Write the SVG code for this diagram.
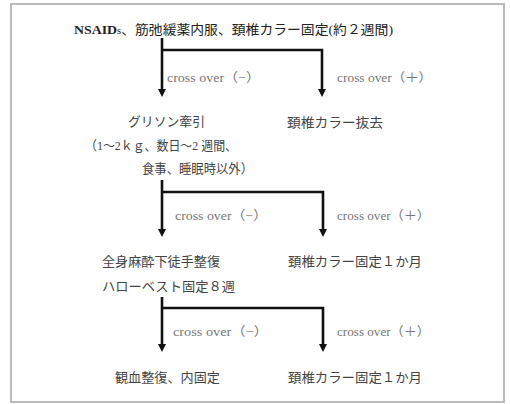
<svg xmlns="http://www.w3.org/2000/svg" width="510" height="404" viewBox="0 0 510 404">
<defs>
<style>
.t{font-family:"Liberation Serif","Noto Sans CJK JP",serif;font-size:13px;fill:#444}
.top{fill:#222}
.co{font-family:"Liberation Serif","Noto Sans CJK JP",serif;font-size:12.5px;fill:#777}
.c{fill:none;stroke:#111;stroke-width:2.6;stroke-linejoin:miter}
.h{fill:#111}
</style>
</defs>
<rect x="11" y="4" width="493" height="398" fill="#fff" stroke="#bbb" stroke-width="2"/>
<g id="connectors">
<path class="c" d="M162,38 V89"/>
<path class="c" d="M162,50 H322 V89"/>
<path class="h" d="M158,89 L166,89 L162,97 Z"/>
<path class="h" d="M318,89 L326,89 L322,97 Z"/>
<path class="c" d="M162,180 V229"/>
<path class="c" d="M162,192 H323 V229"/>
<path class="h" d="M158,229 L166,229 L162,237 Z"/>
<path class="h" d="M319,229 L327,229 L323,237 Z"/>
<path class="c" d="M162,297 V344"/>
<path class="c" d="M162,308 H323 V344"/>
<path class="h" d="M158,344 L166,344 L162,352 Z"/>
<path class="h" d="M319,344 L327,344 L323,352 Z"/>
<text class="co" x="167" y="82" textLength="93" lengthAdjust="spacingAndGlyphs">cross over（−）</text>
<text class="co" x="337" y="82" textLength="95" lengthAdjust="spacingAndGlyphs">cross over（＋）</text>
<text class="co" x="175" y="220" textLength="92" lengthAdjust="spacingAndGlyphs">cross over（−）</text>
<text class="co" x="337" y="220" textLength="93" lengthAdjust="spacingAndGlyphs">cross over（＋）</text>
<text class="co" x="173" y="336" textLength="95" lengthAdjust="spacingAndGlyphs">cross over（−）</text>
<text class="co" x="337" y="336" textLength="93" lengthAdjust="spacingAndGlyphs">cross over（＋）</text>
</g>
<g id="n0">
<text class="t top" x="74" y="34" textLength="319" lengthAdjust="spacingAndGlyphs"><tspan font-weight="bold">NSAID</tspan><tspan font-size="10">s</tspan>、筋弛緩薬内服、頚椎カラー固定(約２週間)</text>
</g>
<g id="n1">
<text class="t" x="128" y="126" textLength="77" lengthAdjust="spacingAndGlyphs">グリソン牽引</text>
<text class="t" x="85" y="150" textLength="152" lengthAdjust="spacingAndGlyphs">（1〜2ｋｇ、数日〜2 週間、</text>
<text class="t" x="142" y="173" textLength="111" lengthAdjust="spacingAndGlyphs">食事、睡眠時以外）</text>
</g>
<g id="n2">
<text class="t" x="287" y="127" textLength="96" lengthAdjust="spacingAndGlyphs">頚椎カラー抜去</text>
</g>
<g id="n3">
<text class="t" x="102" y="266" textLength="118" lengthAdjust="spacingAndGlyphs">全身麻酔下徒手整復</text>
<text class="t" x="102" y="291" textLength="133" lengthAdjust="spacingAndGlyphs">ハローベスト固定８週</text>
</g>
<g id="n4">
<text class="t" x="288" y="266" textLength="134" lengthAdjust="spacingAndGlyphs">頚椎カラー固定１か月</text>
</g>
<g id="n5">
<text class="t" x="115" y="382" textLength="105" lengthAdjust="spacingAndGlyphs">観血整復、内固定</text>
</g>
<g id="n6">
<text class="t" x="288" y="382" textLength="134" lengthAdjust="spacingAndGlyphs">頚椎カラー固定１か月</text>
</g>
</svg>
